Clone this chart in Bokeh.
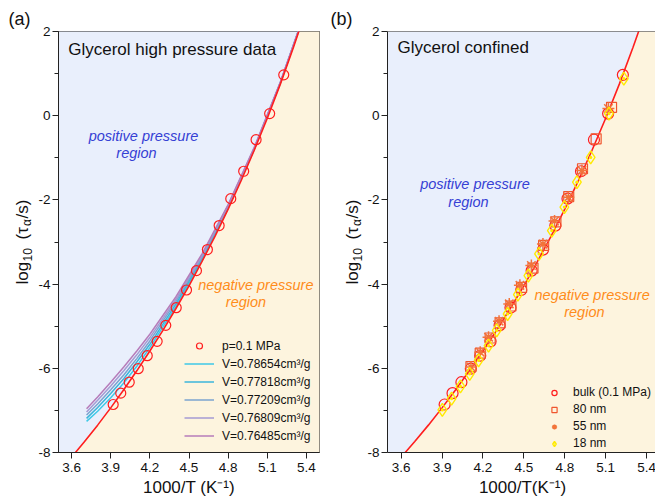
import math
from bokeh.plotting import figure
from bokeh.layouts import row
from bokeh.models import Label, Legend, LegendItem, FixedTicker, Span, Range1d, Title
from bokeh.embed import file_html
from bokeh.resources import INLINE

FONT = "Liberation Sans"

# ---------------- data ----------------
x_ticks = [3.6, 3.9, 4.2, 4.5, 4.8, 5.1, 5.4]
y_ticks = [-8, -6, -4, -2, 0, 2]
y_minor = [-7, -5, -3, -1, 1]

# bulk glycerol, p = 0.1 MPa
bulk_x = [3.919, 3.977, 4.042, 4.111, 4.180, 4.256, 4.322, 4.402, 4.481,
          4.557, 4.641, 4.731, 4.820, 4.919, 5.014, 5.118, 5.226]
bulk_y = [-6.86, -6.59, -6.33, -6.01, -5.70, -5.36, -4.98, -4.56, -4.14,
          -3.68, -3.18, -2.61, -1.97, -1.32, -0.57, 0.05, 0.97]

# VFT curve of bulk
vft_x = [3.63, 3.70, 3.80, 3.90, 4.00, 4.10, 4.20, 4.30, 4.40, 4.50,
         4.60, 4.70, 4.80, 4.90, 5.00, 5.10, 5.20, 5.30, 5.36]
vft_y = [-8.00, -7.74, -7.35, -6.94, -6.51, -6.06, -5.59, -5.10, -4.58, -4.04,
         -3.46, -2.86, -2.22, -1.54, -0.82, -0.06, 0.75, 1.62, 2.17]

# isochoric curves
iso_x = [3.715, 3.80, 3.90, 4.00, 4.10, 4.20, 4.40, 4.60, 4.80, 5.00, 5.20, 5.36]
iso_labels = ["V=0.78654cm³/g", "V=0.77818cm³/g", "V=0.77209cm³/g",
              "V=0.76809cm³/g", "V=0.76485cm³/g"]
iso_y1 = [-7.26, -7.02, -6.70, -6.35, -5.95, -5.51, -4.53, -3.43, -2.20, -0.80, 0.77, 2.19]
iso_y2 = [-7.19, -6.93, -6.60, -6.25, -5.85, -5.43, -4.47, -3.39, -2.18, -0.79, 0.78, 2.20]
iso_y3 = [-7.11, -6.85, -6.51, -6.16, -5.77, -5.35, -4.41, -3.36, -2.16, -0.78, 0.79, 2.20]
iso_y4 = [-7.04, -6.76, -6.42, -6.06, -5.68, -5.27, -4.36, -3.32, -2.13, -0.77, 0.79, 2.21]
iso_y5 = [-6.96, -6.68, -6.33, -5.97, -5.59, -5.19, -4.30, -3.28, -2.11, -0.75, 0.80, 2.21]
iso_colors = ["#3EC9E7", "#3BB6DB", "#7BA4CF", "#A49BD3", "#B67CBA"]

# confined glycerol
sq80_x = [4.112, 4.180, 4.253, 4.326, 4.405, 4.483, 4.567, 4.645, 4.735, 4.829, 4.930, 5.030, 5.143]
sq80_y = [-5.96, -5.64, -5.28, -4.92, -4.52, -4.08, -3.62, -3.08, -2.52, -1.92, -1.26, -0.55, 0.20]
ast55_x = [4.112, 4.180, 4.241, 4.318, 4.393, 4.471, 4.555, 4.640, 4.725, 4.826, 4.926, 5.120]
ast55_y = [-5.97, -5.62, -5.26, -4.88, -4.47, -4.03, -3.56, -3.05, -2.50, -1.94, -1.30, 0.17]
dia18_x = [3.902, 3.970, 4.035, 4.103, 4.168, 4.241, 4.301, 4.381, 4.456, 4.533,
           4.611, 4.705, 4.797, 4.889, 4.990, 5.124, 5.233]
dia18_y = [-6.99, -6.72, -6.43, -6.13, -5.81, -5.46, -5.10, -4.71, -4.25, -3.80,
           -3.28, -2.73, -2.17, -1.58, -0.99, 0.05, 0.88]

X0, Y0, Y1 = 3.5, -8.0, 2.0
XL_END, XR_END = 5.5, 5.48

BLUE_BG = "#E9EFFC"
YEL_BG = "#FDF4DE"
RED = "#FF1E1E"
POS_C = "#3540D4"
NEG_C = "#FF8C1A"
TOP, FH, BOT = 31, 421, 52


def make_fig(x_end, fw, bl, br):
    p = figure(frame_width=fw, frame_height=FH, x_range=(X0, x_end), y_range=(Y0, Y1),
               output_backend="svg", toolbar_location=None,
               min_border_left=bl, min_border_right=br, min_border_top=TOP, min_border_bottom=BOT)
    p.xgrid.visible = False
    p.ygrid.visible = False
    p.background_fill_color = "white"
    p.border_fill_color = "white"
    p.xaxis.ticker = FixedTicker(ticks=x_ticks, minor_ticks=[])
    p.yaxis.ticker = FixedTicker(ticks=y_ticks, minor_ticks=y_minor)
    p.yaxis.major_label_overrides = {t: str(t) for t in y_ticks}
    for ax in (p.xaxis[0], p.yaxis[0]):
        ax.axis_line_color = "#222222"
        ax.major_tick_line_color = "#222222"
        ax.minor_tick_line_color = "#222222"
        ax.major_tick_out = 6
        ax.major_tick_in = 0
        ax.minor_tick_out = 4
        ax.minor_tick_in = 0
        ax.major_label_text_font = FONT
        ax.major_label_text_font_size = "13.5px"
        ax.major_label_text_color = "#111111"
        ax.axis_label_text_font = FONT
        ax.axis_label_text_font_size = "17px"
        ax.axis_label_text_font_style = "normal"
        ax.axis_label_text_color = "#111111"
    p.yaxis.major_label_standoff = 2
    p.xaxis.major_label_standoff = 4
    p.xaxis.axis_label_standoff = 3
    # background regions split by the bulk curve
    bx = [X0, X0] + vft_x[::-1]
    by = [Y0 - 0.1, Y1 + 0.1] + vft_y[::-1]
    p.patch(bx + [vft_x[0]], by + [Y0 - 0.1], fill_color=BLUE_BG, line_color=None)
    yx = vft_x + [x_end + 0.1, x_end + 0.1]
    yy = vft_y + [Y1 + 0.5, Y0 - 0.1]
    p.patch(yx, yy, fill_color=YEL_BG, line_color=None)
    return p


def txt(p, x, y, s, size="17px", color="#111111", style="normal", align="left",
        angle=0.0, baseline="middle", units="screen"):
    p.add_layout(Label(x=x, y=y, x_units=units, y_units=units, text=s,
                       text_font=FONT, text_font_size=size, text_color=color,
                       text_font_style=style, text_align=align, text_baseline=baseline,
                       angle=angle))


def label_fig(w, tag, tag_x, ylab_x, ylab_start):
    # narrow figure with the same vertical geometry as the panels;
    # its data coordinates equal page pixels
    f = figure(frame_width=w, frame_height=FH,
               x_range=Range1d(0, w), y_range=Range1d(TOP + FH, TOP),
               output_backend="svg", toolbar_location=None,
               min_border_left=0, min_border_right=0, min_border_top=TOP, min_border_bottom=BOT,
               x_axis_type=None, y_axis_type=None)
    f.title = Title(text=tag, align="left", offset=tag_x, text_font=FONT,
                    text_font_size="18px", text_font_style="normal", text_color="#111111",
                    standoff=4, vertical_align="middle")
    f.outline_line_color = None
    f.xgrid.visible = False
    f.ygrid.visible = False
    f.background_fill_color = "white"
    f.border_fill_color = "white"
    a = math.pi / 2
    y = ylab_start
    txt(f, ylab_x, y, "log", angle=a, units="data")
    txt(f, ylab_x + 4.5, y - 23, "10", size="12px", angle=a, units="data")
    txt(f, ylab_x, y - 45, "(τ", angle=a, units="data")
    txt(f, ylab_x + 4.5, y - 58.5, "α", size="12px", angle=a, units="data")
    txt(f, ylab_x, y - 66, "/s)", angle=a, units="data")
    return f


# ---------------- panel (a) ----------------
labA = label_fig(35, "(a)", 8, 22, 284)
p1 = make_fig(XL_END, 261, 22, 8)
p1.outline_line_color = "#222222"
p1.outline_line_width = 1
p1.xaxis.axis_label = "1000/T (K⁻¹)"

iso_r = []
for ys, c in zip([iso_y1, iso_y2, iso_y3, iso_y4, iso_y5], iso_colors):
    iso_r.append(p1.line(iso_x, ys, line_color=c, line_width=1.5))
p1.line(vft_x, vft_y, line_color=RED, line_width=1.6)
r_bulk1 = p1.scatter(bulk_x, bulk_y, marker="circle", size=10, fill_color=None,
                     line_color=RED, line_width=1.2)

leg1 = Legend(items=[LegendItem(label="p=0.1 MPa", renderers=[r_bulk1])] +
              [LegendItem(label=l, renderers=[r]) for l, r in zip(iso_labels, iso_r)],
              location=(126, 9), padding=0, margin=0, spacing=3,
              glyph_width=30, glyph_height=15, label_height=15, label_standoff=8,
              label_text_font=FONT, label_text_font_size="12px", label_text_color="#111111",
              border_line_color=None, background_fill_alpha=0)
p1.add_layout(leg1)

txt(p1, 9.7, 403, "Glycerol high pressure data")
txt(p1, 85, 317, "positive pressure", size="14.5px", color=POS_C, style="italic", align="center")
txt(p1, 78, 299.3, "region", size="14.5px", color=POS_C, style="italic", align="center")
txt(p1, 139.7, 167.7, "negative pressure", size="14.5px", color=NEG_C, style="italic")
txt(p1, 167.3, 150.3, "region", size="14.5px", color=NEG_C, style="italic")

# ---------------- panel (b) ----------------
labB = label_fig(37, "(b)", 3, 25, 284)
p2 = make_fig(XR_END, 270, 21, 1)
p2.outline_line_color = None
p2.add_layout(Span(location=Y1, dimension="width", line_color="#222222", line_width=1))
p2.xaxis.axis_label = "1000/T(K⁻¹)"

p2.line(vft_x, vft_y, line_color=RED, line_width=1.6)
r_b = p2.scatter(bulk_x, bulk_y, marker="circle", size=11, fill_color=None,
                 line_color=RED, line_width=1.2)
r_s = p2.scatter(sq80_x, sq80_y, marker="square", size=10, fill_color=None,
                 line_color="#F0552E", line_width=1.2)
r_a = p2.scatter(ast55_x, ast55_y, marker="asterisk", size=12,
                 line_color="#F2743A", line_width=1.5)
r_d = p2.scatter(dia18_x, dia18_y, marker="diamond_dot", size=13,
                 fill_color=None, line_color="#FFEA00", line_width=1.4)

leg2 = Legend(items=[LegendItem(label="bulk (0.1 MPa)", renderers=[r_b]),
                     LegendItem(label="80 nm", renderers=[r_s]),
                     LegendItem(label="55 nm", renderers=[r_a]),
                     LegendItem(label="18 nm", renderers=[r_d])],
              location=(157, 2), padding=0, margin=0, spacing=3,
              glyph_width=20, glyph_height=13, label_height=13, label_standoff=9,
              label_text_font=FONT, label_text_font_size="12px", label_text_color="#111111",
              border_line_color=None, background_fill_alpha=0)
p2.add_layout(leg2)

txt(p2, 10, 405.3, "Glycerol confined")
txt(p2, 32.7, 268.7, "positive pressure", size="14.5px", color=POS_C, style="italic")
txt(p2, 81, 250.3, "region", size="14.5px", color=POS_C, style="italic", align="center")
txt(p2, 147, 158, "negative pressure", size="14.5px", color=NEG_C, style="italic")
txt(p2, 176.7, 140.3, "region", size="14.5px", color=NEG_C, style="italic")

layout = row(labA, p1, labB, p2)
open("out.html", "w").write(file_html(layout, INLINE))
